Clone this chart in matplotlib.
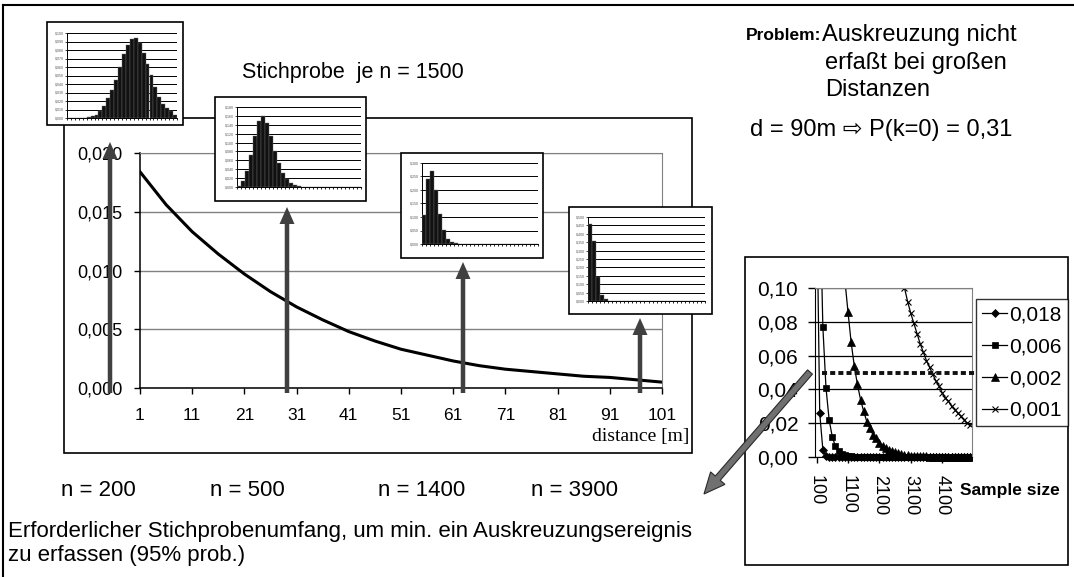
import matplotlib
matplotlib.use("Agg")
import matplotlib.pyplot as plt
import numpy as np
from matplotlib.patches import Rectangle, FancyArrow
from matplotlib.lines import Line2D
from matplotlib.ticker import FuncFormatter
from matplotlib.transforms import IdentityTransform, Bbox, TransformedBbox, blended_transform_factory

W, H = 1074, 577

# ---------------- data ----------------
DISTANCE = [1, 6, 11, 16, 21, 26, 31, 36, 41, 46, 51, 56, 61, 66, 71, 76, 81, 86, 91, 96, 101]
P_OUTCROSS = [0.0184, 0.0156, 0.0133, 0.0114, 0.0097, 0.0082, 0.0069, 0.0058, 0.0048, 0.0040,
              0.0033, 0.0028, 0.0023, 0.0019, 0.0016, 0.0014, 0.0012, 0.0010, 0.0009, 0.0007, 0.0005]
DIST_TICKS = [1, 11, 21, 31, 41, 51, 61, 71, 81, 91, 101]
MAIN_YTICKS = [0.0, 0.005, 0.010, 0.015, 0.020]

INSET1 = [0, 0, 0, 0, 0, 0.001, 0.002, 0.004, 0.008, 0.014, 0.023, 0.033, 0.045, 0.060,
          0.075, 0.086, 0.093, 0.094, 0.088, 0.076, 0.063, 0.051, 0.037, 0.025, 0.017,
          0.012, 0.008, 0.004]
INSET2 = [0.002, 0.013, 0.035, 0.072, 0.114, 0.148, 0.159, 0.145, 0.115, 0.081, 0.055,
          0.031, 0.018, 0.009, 0.004, 0.002, 0, 0, 0, 0, 0, 0, 0, 0, 0, 0, 0, 0, 0, 0, 0]
INSET3 = [0.107, 0.241, 0.269, 0.199, 0.112, 0.052, 0.020, 0.007, 0.002, 0, 0, 0, 0, 0, 0,
          0, 0, 0, 0, 0, 0, 0, 0, 0, 0, 0, 0, 0, 0]
INSET4 = [0.460, 0.357, 0.143, 0.034, 0.010, 0, 0, 0, 0, 0, 0, 0, 0, 0, 0,
          0, 0, 0, 0, 0, 0, 0, 0, 0, 0, 0, 0, 0, 0]
INSET1_Y = [0.0, 0.01, 0.02, 0.03, 0.04, 0.05, 0.06, 0.07, 0.08, 0.09, 0.10]
INSET2_Y = [0.0, 0.02, 0.04, 0.06, 0.08, 0.10, 0.12, 0.14, 0.16, 0.18]
INSET3_Y = [0.0, 0.05, 0.10, 0.15, 0.20, 0.25, 0.30]
INSET4_Y = [0.0, 0.05, 0.10, 0.15, 0.20, 0.25, 0.30, 0.35, 0.40, 0.45, 0.50]

SAMPLE_SIZE = [100, 200, 300, 400, 500, 600, 700, 800, 900, 1000,
               1100, 1200, 1300, 1400, 1500, 1600, 1700, 1800, 1900, 2000,
               2100, 2200, 2300, 2400, 2500, 2600, 2700, 2800, 2900, 3000,
               3100, 3200, 3300, 3400, 3500, 3600, 3700, 3800, 3900, 4000,
               4100, 4200, 4300, 4400, 4500, 4600, 4700, 4800, 4900, 5000]
SAMPLE_TICKS = [100, 1100, 2100, 3100, 4100]
P_018 = [0.163, 0.026, 0.0043, 0.0007, 0.0001, 0, 0, 0, 0, 0,
         0, 0, 0, 0, 0, 0, 0, 0, 0, 0,
         0, 0, 0, 0, 0, 0, 0, 0, 0, 0,
         0, 0, 0, 0, 0, 0, 0, 0, 0, 0,
         0, 0, 0, 0, 0, 0, 0, 0, 0, 0]
P_006 = [0.32, 0.16, 0.077, 0.041, 0.022, 0.012, 0.0063, 0.0034, 0.0018, 0.0010,
         0.0005, 0.0003, 0.0001, 0, 0, 0, 0, 0, 0, 0,
         0, 0, 0, 0, 0, 0, 0, 0, 0, 0,
         0, 0, 0, 0, 0, 0, 0, 0, 0, 0,
         0, 0, 0, 0, 0, 0, 0, 0, 0, 0]
P_002 = [0.82, 0.67, 0.55, 0.45, 0.37, 0.30, 0.25, 0.20, 0.135, 0.105,
         0.086, 0.068, 0.054, 0.043, 0.034, 0.027, 0.021, 0.017, 0.013, 0.011,
         0.0085, 0.0068, 0.0054, 0.0043, 0.0034, 0.0027, 0.0021, 0.0017, 0.0013, 0.0011,
         0.0008, 0.0007, 0.0005, 0.0004, 0.0003, 0.0003, 0.0002, 0.0002, 0.0001, 0.0001,
         0, 0, 0, 0, 0, 0, 0, 0, 0, 0]
P_001 = [0.99, 0.95, 0.87, 0.80, 0.74, 0.68, 0.62, 0.57, 0.53, 0.49,
         0.45, 0.41, 0.38, 0.35, 0.32, 0.29, 0.27, 0.25, 0.23, 0.21,
         0.193, 0.178, 0.164, 0.151, 0.139, 0.128, 0.118, 0.108, 0.100, 0.092,
         0.085, 0.079, 0.073, 0.067, 0.062, 0.057, 0.053, 0.049, 0.045, 0.042,
         0.038, 0.035, 0.033, 0.030, 0.028, 0.026, 0.024, 0.022, 0.020, 0.019]
RIGHT_YTICKS = [0.0, 0.02, 0.04, 0.06, 0.08, 0.10]
LEGEND_LABELS = ["0,018", "0,006", "0,002", "0,001"]
THRESHOLD = 0.05
N_LABELS = ["n = 200", "n = 500", "n = 1400", "n = 3900"]

# ---------------- fonts ----------------
plt.rcParams['font.family'] = ['Liberation Sans', 'DejaVu Sans']

fig = plt.figure(figsize=(W / 100, H / 100), dpi=100)
PIX = IdentityTransform()


def rect(x0, y0, x1, y1):
    return [x0 / W, 1 - y1 / H, (x1 - x0) / W, (y1 - y0) / H]


def box(x0, y0, x1, y1, z, lw=1.2):
    fig.add_artist(Rectangle((x0, H - y1), x1 - x0, y1 - y0, transform=PIX,
                             facecolor='white', edgecolor='black', lw=lw, zorder=z))


def comma(dec):
    return FuncFormatter(lambda v, p: f"{v:.{dec}f}".replace('.', ','))


def text(x, y, s, **kw):
    kw.setdefault('va', 'center')
    kw.setdefault('ha', 'left')
    kw.setdefault('zorder', 8)
    fig.text(x / W, 1 - y / H, s, **kw)


def up_arrow(x, y0, y1, z=4):
    fig.add_artist(FancyArrow(x, H - y0, 0, y0 - y1, width=4.5, head_width=15, head_length=17,
                              length_includes_head=True, transform=PIX,
                              facecolor='#404040', edgecolor='none', zorder=z))


# slide frame
fig.add_artist(Line2D([3 / W, 1], [1 - 5 / H, 1 - 5 / H], color='black', lw=1.5,
                      transform=fig.transFigure, zorder=1))
fig.add_artist(Line2D([3 / W, 3 / W], [0, 1 - 5 / H], color='black', lw=1.5,
                      transform=fig.transFigure, zorder=1))

# ---------------- main chart ----------------
box(64, 118, 692, 453, 2)
ax = fig.add_axes(rect(140, 153, 662, 388))
ax.set_zorder(3)
ax.plot(DISTANCE, P_OUTCROSS, color='black', lw=2.2)
ax.set_xlim(DIST_TICKS[0], DIST_TICKS[-1])
ax.set_ylim(MAIN_YTICKS[0], MAIN_YTICKS[-1])
ax.set_xticks(DIST_TICKS)
ax.set_yticks(MAIN_YTICKS)
ax.yaxis.set_major_formatter(comma(3))
ax.grid(axis='y', color='#808080', lw=1)
ax.set_axisbelow(True)
for s in ['top', 'right']:
    ax.spines[s].set_color('#808080')
for s in ['left', 'bottom']:
    ax.spines[s].set_linewidth(1.1)
ax.tick_params(axis='y', direction='out', length=4.5, width=1, labelsize=13, pad=8)
ax.tick_params(axis='x', direction='out', length=4.5, width=1, labelsize=12.5, pad=10)
text(689, 437, "distance [m]", ha='right', family=['Liberation Serif', 'DejaVu Serif'], fontsize=14)

# arrows to the insets
up_arrow(110, 393, 142)
up_arrow(287, 393, 207)
up_arrow(463, 393, 262)
up_arrow(640, 393, 318)


# ---------------- insets ----------------
def inset(vals, yt, bx, pl):
    box(*bx, 5)
    a = fig.add_axes(rect(*pl))
    a.set_zorder(6)
    n = len(vals)
    a.bar(np.arange(n), vals, width=1.0, color='#111111', edgecolor='#6a6a6a', linewidth=0.3, zorder=3)
    a.set_xlim(-0.5, n - 0.5)
    a.set_ylim(yt[0], yt[-1])
    a.set_yticks(yt)
    a.yaxis.set_major_formatter(comma(3))
    a.set_xticks(np.arange(n + 1) - 0.5)
    a.set_xticklabels([])
    a.grid(axis='y', color='black', lw=0.7)
    a.set_axisbelow(True)
    a.spines['top'].set_visible(False)
    a.spines['right'].set_visible(False)
    a.spines['left'].set_linewidth(0.7)
    a.spines['bottom'].set_linewidth(0.7)
    a.tick_params(axis='y', length=1.5, width=0.5, labelsize=2.6, pad=1, labelcolor='#555555')
    a.tick_params(axis='x', length=1.5, width=0.6)


inset(INSET1, INSET1_Y, (47, 22, 183, 125), (67, 33, 177, 118))
inset(INSET2, INSET2_Y, (215, 97, 366, 201), (237, 107, 361, 187))
inset(INSET3, INSET3_Y, (401, 153, 543, 258), (422, 163, 538, 244))
inset(INSET4, INSET4_Y, (569, 207, 712, 314), (588, 217, 705, 301))

# ---------------- right chart ----------------
box(745, 257, 1068, 565, 2)
ax2 = fig.add_axes(rect(815, 288, 972, 457))
ax2.set_zorder(3)
idx = np.arange(len(SAMPLE_SIZE))
clipbox = TransformedBbox(Bbox([[-0.5, -0.02], [len(SAMPLE_SIZE) - 0.5, RIGHT_YTICKS[-1]]]), ax2.transData)
handles = []
for vals, mk, ms in [(P_018, 'D', 3.8), (P_006, 's', 4.5), (P_002, '^', 5.5), (P_001, 'x', 5)]:
    ln, = ax2.plot(idx, vals, color='black', lw=0.9, marker=mk, ms=ms, mfc='black',
                   mec='black', mew=0.8 if mk == 'x' else 0.5)
    ln.set_clip_box(clipbox)
    handles.append(ln)
ax2.set_xlim(-0.5, len(SAMPLE_SIZE) - 0.5)
ax2.set_ylim(RIGHT_YTICKS[0], RIGHT_YTICKS[-1])
ax2.set_yticks(RIGHT_YTICKS)
ax2.yaxis.set_major_formatter(comma(2))
ax2.set_xticks([SAMPLE_SIZE.index(v) for v in SAMPLE_TICKS])
ax2.set_xticklabels([str(v) for v in SAMPLE_TICKS])
ax2.grid(axis='y', color='black', lw=0.9)
ax2.set_axisbelow(True)
for s in ['top', 'right']:
    ax2.spines[s].set_color('#808080')
ax2.tick_params(axis='y', direction='out', length=5, width=1, labelsize=15, pad=7)
ax2.tick_params(axis='x', direction='out', length=4, width=1, labelsize=13, pad=9, labelrotation=270)

thr = blended_transform_factory(ax2.transAxes, ax2.transData)
ax2.plot([0.045, 1.03], [THRESHOLD, THRESHOLD], transform=thr, color='#111111', lw=2.8,
         linestyle=(0, (1.3, 0.8)), dash_capstyle='butt', clip_on=False, zorder=4)

leg = ax2.legend(handles, LEGEND_LABELS, loc='upper left', bbox_to_anchor=(976 / W, 1 - 299 / H),
                 bbox_transform=fig.transFigure, frameon=True, fancybox=False, edgecolor='black',
                 fontsize=15, handlelength=1.2, handletextpad=0.1, borderpad=0.3,
                 labelspacing=0.62, borderaxespad=0, numpoints=1)
leg.get_frame().set_linewidth(1.0)

text(960, 490, "Sample size", fontweight='bold', fontsize=12.5)

# diagonal arrow from the right chart to the sample sizes
x0, y0, x1, y1 = 810, 372, 704, 494
fig.add_artist(FancyArrow(x0, H - y0, x1 - x0, -(y1 - y0), width=6.5, head_width=19, head_length=21,
                          length_includes_head=True, transform=PIX,
                          facecolor='#707070', edgecolor='#2a2a2a', lw=0.8, zorder=7))

# ---------------- texts ----------------
text(242, 72, "Stichprobe  je n = 1500", fontsize=15.5)
text(746, 35, "Problem:", fontweight='bold', fontsize=12.5)
text(822, 35, "Auskreuzung nicht", fontsize=17)
text(825, 63, "erfaßt bei großen", fontsize=17)
text(825, 90, "Distanzen", fontsize=17)
text(750, 130, "d = 90m \u21e8 P(k=0) = 0,31", fontsize=17)

for xpos, s in zip([61, 210, 378, 531], N_LABELS):
    text(xpos, 490, s, fontsize=16)
text(8, 531, "Erforderlicher Stichprobenumfang, um min. ein Auskreuzungsereignis", fontsize=16)
text(8, 556, "zu erfassen (95% prob.)", fontsize=16)

fig.savefig("out.png", dpi=100)
